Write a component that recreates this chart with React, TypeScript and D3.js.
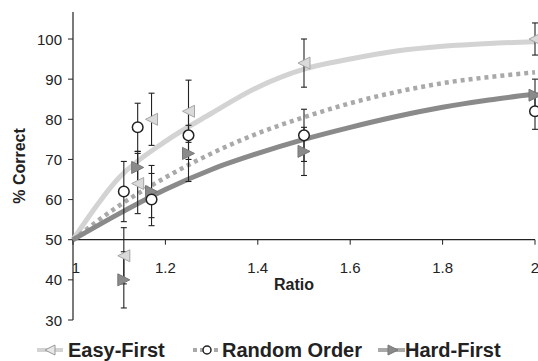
import * as d3 from "d3";
import React from "react";

// observed groups
const ratios = [1.11, 1.14, 1.17, 1.25, 1.5, 2];
const easyMean = [46, 64, 80, 82, 94, 100];
const easyErr = [7, 7.5, 6.5, 7.75, 6, 4];
const randomMean = [62, 78, 60, 76, 76, 82];
const randomErr = [7.5, 6, 6.5, 6, 6.5, 4.5];
const hardMean = [40, 68, 62, 71.5, 72, 86];
const hardErr = [7, 4, 6.5, 7, 6, 4];

// fitted curves
const fitRatios = [1, 1.1, 1.2, 1.3, 1.4, 1.5, 1.6, 1.7, 1.8, 1.9, 2];
const easyFit = [50, 65.5, 74.5, 81.5, 88, 92.5, 95, 97, 98.2, 98.9, 99.3];
const randomFit = [50, 58.5, 65.5, 71.5, 76.5, 80.5, 84, 86.8, 89, 90.5, 91.7];
const hardFit = [50, 56.5, 62.5, 67.5, 71.5, 75, 78, 80.7, 83, 84.8, 86.3];

const xTicks = [1, 1.2, 1.4, 1.6, 1.8, 2];
const yTicks = [30, 40, 50, 60, 70, 80, 90, 100];

const C = { easy: "#d3d3d3", easyMk: "#dadada", random: "#a9a9a9", hard: "#8a8a8a" };
const font = "Arial, 'Liberation Sans', sans-serif";

const triLeft = (s: number) => `M${-s},0L${s},${-s}L${s},${s}Z`;
const triRight = (s: number) => `M${s},0L${-s},${-s}L${-s},${s}Z`;

export default function App() {
    const W = 538, H = 361;
    const x = d3.scaleLinear().domain([1, 2]).range([73, 535]);
    const y = d3.scaleLinear().domain([30, 100]).range([320, 39]);
    const line = d3.line<number>().x((_, i) => x(fitRatios[i])).y(v => y(v)).curve(d3.curveMonotoneX);

    const errBars = (mean: number[], err: number[], key: string) => mean.map((m, i) => {
        const cx = x(ratios[i]);
        return (
            <g key={key + i} stroke="#222" strokeWidth={1.1}>
                <line x1={cx} x2={cx} y1={y(m + err[i])} y2={y(m - err[i])} />
                <line x1={cx - 3} x2={cx + 3} y1={y(m + err[i])} y2={y(m + err[i])} />
                <line x1={cx - 3} x2={cx + 3} y1={y(m - err[i])} y2={y(m - err[i])} />
            </g>
        );
    });

    return (
        <div style={{ position: "absolute", left: 0, top: 0 }}>
            <svg width={W} height={H} style={{ display: "block", fontFamily: font }}>
                <rect width={W} height={H} fill="#fff" />
                {/* axes */}
                <line x1={73} x2={73} y1={12} y2={y(30)} stroke="#222" strokeWidth={1.2} />
                <line x1={73} x2={x(2)} y1={y(50)} y2={y(50)} stroke="#222" strokeWidth={1.2} />
                {yTicks.map(t => (
                    <g key={t}>
                        <line x1={68} x2={73} y1={y(t)} y2={y(t)} stroke="#222" />
                        <text x={62} y={y(t)} textAnchor="end" dominantBaseline="central" fontSize={15} fill="#222">{t}</text>
                    </g>
                ))}
                {xTicks.map(t => (
                    <g key={t}>
                        <line x1={x(t)} x2={x(t)} y1={y(50)} y2={y(50) + 5} stroke="#222" />
                        <text x={t === 1 ? x(t) + 3 : x(t)} y={273} textAnchor="middle" fontSize={15} fill="#222">{t}</text>
                    </g>
                ))}
                <text x={294} y={290} textAnchor="middle" fontSize={16} fontWeight="bold" fill="#222">Ratio</text>
                <text transform="translate(19,166) rotate(-90)" textAnchor="middle" dominantBaseline="central" fontSize={16} fontWeight="bold" fill="#222">% Correct</text>

                {/* fitted curves */}
                <path d={line(easyFit) ?? undefined} fill="none" stroke={C.easy} strokeWidth={5} />
                <path d={line(randomFit) ?? undefined} fill="none" stroke={C.random} strokeWidth={4.5} strokeDasharray="4 4" />
                <path d={line(hardFit) ?? undefined} fill="none" stroke={C.hard} strokeWidth={5} />

                {/* error bars */}
                {errBars(easyMean, easyErr, "e")}
                {errBars(randomMean, randomErr, "r")}
                {errBars(hardMean, hardErr, "h")}

                {/* markers */}
                {easyMean.map((m, i) => (
                    <path key={"em" + i} d={triLeft(6)} transform={`translate(${x(ratios[i])},${y(m)})`} fill={C.easyMk} stroke="#a5a5a5" strokeWidth={1} />
                ))}
                {hardMean.map((m, i) => (
                    <path key={"hm" + i} d={triRight(6)} transform={`translate(${x(ratios[i])},${y(m)})`} fill={C.hard} stroke="#777" strokeWidth={1} />
                ))}
                {randomMean.map((m, i) => (
                    <circle key={"rm" + i} cx={x(ratios[i])} cy={y(m)} r={5.3} fill="#fff" stroke="#222" strokeWidth={1.5} />
                ))}

                {/* legend */}
                <g transform="translate(0,350)">
                    <line x1={37} x2={63} y1={0} y2={0} stroke={C.easy} strokeWidth={4} />
                    <path d={triLeft(5)} transform="translate(50,0)" fill="#e8e8e8" stroke="#999" />
                    <text x={68} y={7} fontSize={20} fontWeight="bold" fill="#222">Easy-First</text>
                    <line x1={193} x2={220} y1={0} y2={0} stroke={C.random} strokeWidth={4} strokeDasharray="4 3" />
                    <circle cx={207} cy={0} r={4} fill="#fff" stroke="#222" strokeWidth={1.5} />
                    <text x={222} y={7} fontSize={20} fontWeight="bold" fill="#222">Random Order</text>
                    <line x1={378} x2={405} y1={0} y2={0} stroke={C.random} strokeWidth={4} />
                    <path d={triRight(5)} transform="translate(393,0)" fill={C.hard} stroke="#777" />
                    <text x={405} y={7} fontSize={20} fontWeight="bold" fill="#222">Hard-First</text>
                </g>
            </svg>
        </div>
    );
}
